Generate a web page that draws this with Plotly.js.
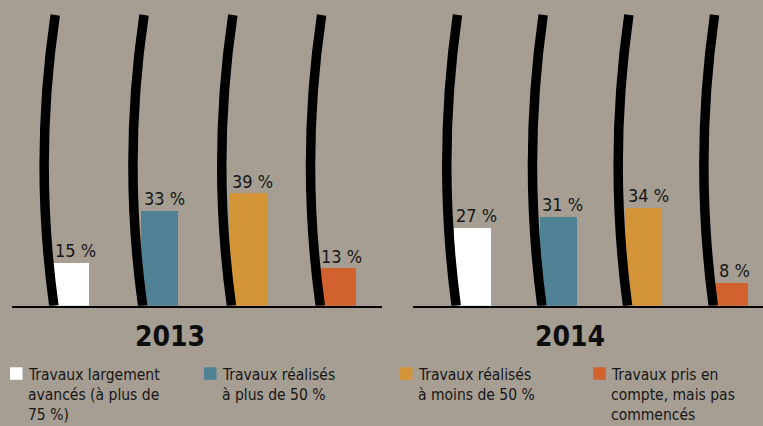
<!DOCTYPE html>
<html>
<head>
<meta charset="utf-8">
<script src="https://cdn.plot.ly/plotly-3.0.1.min.js"></script>
<style>
  html, body { margin: 0; padding: 0; background: #a69e93; }
  #chart { width: 763px; height: 426px; }
</style>
</head>
<body>
<div id="chart"></div>
<script>
// ---- data ----
const categories = [
  "Travaux largement<br>avancés (à plus de<br>75 %)",
  "Travaux réalisés<br>à plus de 50 %",
  "Travaux réalisés<br>à moins de 50 %",
  "Travaux pris en<br>compte, mais pas<br>commencés"
];
const years = ["2013", "2014"];
const values2013 = [15, 33, 39, 13];
const values2014 = [27, 31, 34, 8];
const colors = ["#ffffff", "#4f8294", "#d49538", "#d1622f"];

// ---- layout helpers ----
const W = 763, H = 426;
const BG = "#a69e93";
const NARROW = "'DejaVu Sans Condensed', 'Liberation Sans Narrow', sans-serif";
const DESC = 0.236; // font descent (em)
const px = x => x / W;
const py = y => 1 - y / H;
const idx = values2013.map((_, i) => i);

const seriesByYear = [values2013, values2014];
const axisNames = [["x", "y"], ["x2", "y2"]];

const traces = seriesByYear.map((vals, k) => ({
  type: "bar",
  x: idx,
  y: vals,
  xaxis: axisNames[k][0],
  yaxis: axisNames[k][1],
  width: k === 0 ? 0.417 : 0.432,
  marker: { color: colors, line: { width: 0 } },
  hoverinfo: "skip",
  showlegend: false
}));

const shapes = [];
const annotations = [];

// decorative curved strokes to the left of each bar
const valFs = 18;
seriesByYear.forEach((vals, k) => {
  vals.forEach((v, i) => {
    shapes.push({
      type: "path",
      xref: axisNames[k][0], yref: axisNames[k][1],
      path: `M ${i - 0.175},101 Q ${i - 0.4175},50.5 ${i - 0.19},0`,
      line: { color: "#000000", width: 9.5 },
      fillcolor: "rgba(0,0,0,0)",
      layer: "above"
    });
    annotations.push({
      xref: axisNames[k][0], yref: axisNames[k][1],
      x: i, y: v,
      text: v + " %",
      showarrow: false,
      xanchor: "center", yanchor: "bottom",
      xshift: 4.5, yshift: 5 - (DESC * valFs + 1),
      font: { family: NARROW, size: valFs, color: "#161616" }
    });
  });
});

// year titles
const yearCenters = [169.5, 569.7];
const yearFs = 28;
years.forEach((yr, k) => {
  annotations.push({
    xref: "paper", yref: "paper",
    x: px(yearCenters[k]), y: py(347 + DESC * yearFs + 1),
    text: "<b>" + yr + "</b>",
    showarrow: false, xanchor: "center", yanchor: "bottom",
    font: { family: NARROW, size: yearFs, color: "#0d0d0d" }
  });
});

// legend (manual, to reproduce the wrapped layout)
const legendLeft = [10, 204, 400, 593.3];
const legFs = 15.5;
categories.forEach((cat, i) => {
  shapes.push({
    type: "rect", xref: "paper", yref: "paper",
    x0: px(legendLeft[i]), x1: px(legendLeft[i] + 12.5),
    y0: py(379.8), y1: py(367.3),
    fillcolor: colors[i], line: { width: 0 }
  });
  cat.split("<br>").forEach((line, j) => {
    const base = 381 + j * 20.4;
    annotations.push({
      xref: "paper", yref: "paper",
      x: px(legendLeft[i] + 15.5), y: py(base + DESC * legFs + 1),
      text: line, showarrow: false,
      xanchor: "left", yanchor: "bottom",
      font: { family: NARROW, size: legFs, color: "#161616" }
    });
  });
});

const yDomain = [(H - 305.8) / H, (H - 6.3) / H];
const xAxisBase = {
  showgrid: false, zeroline: false, showticklabels: false, ticks: "",
  showline: true, linecolor: "#000000", linewidth: 2.5, fixedrange: true
};
const yAxisBase = { visible: false, range: [0, 104], domain: yDomain, fixedrange: true };

const layout = {
  width: W, height: H,
  margin: { l: 0, r: 0, t: 0, b: 0, pad: 0 },
  paper_bgcolor: BG, plot_bgcolor: BG,
  showlegend: false,
  xaxis: Object.assign({}, xAxisBase, { domain: [px(12), px(382)], range: [-0.662, 3.505], anchor: "y" }),
  yaxis: Object.assign({}, yAxisBase, { anchor: "x" }),
  xaxis2: Object.assign({}, xAxisBase, { domain: [px(413), 1], range: [-0.694, 3.39], anchor: "y2" }),
  yaxis2: Object.assign({}, yAxisBase, { anchor: "x2" }),
  shapes: shapes,
  annotations: annotations,
  bargap: 0
};

Plotly.newPlot("chart", traces, layout, { staticPlot: true, displayModeBar: false });
</script>
</body>
</html>
